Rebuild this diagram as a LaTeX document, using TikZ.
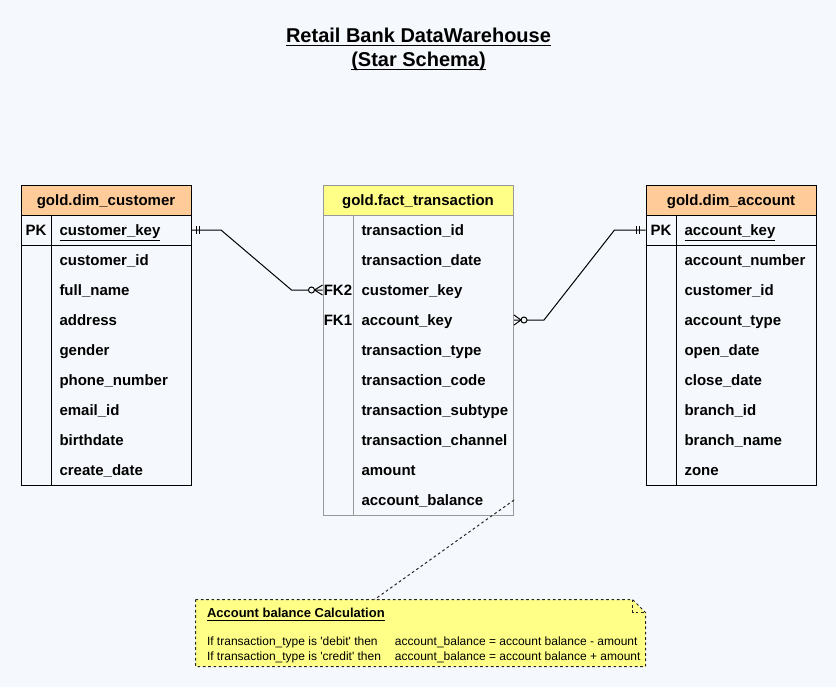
\documentclass[tikz,border=0pt]{standalone}
\usepackage{fontspec}
\setmainfont{Liberation Sans}[Ligatures=TeXOff]
\usetikzlibrary{calc}
\definecolor{pagebg}{HTML}{F5F8FC}
\definecolor{dimhead}{HTML}{FFCC99}
\definecolor{facthead}{HTML}{FFFF88}
\definecolor{factline}{HTML}{999999}
\definecolor{notefill}{HTML}{FFFF88}
% underline at a fixed depth: {depth}{thickness}{text}
\newcommand{\ulbox}[3]{\setbox0\hbox{#3}\rlap{\rule[-#1]{\wd0}{#2}}\box0}
\newcommand{\titleline}[1]{\ulbox{2.9pt}{1.1pt}{#1}}
\newcommand{\keyline}[1]{\ulbox{3.7pt}{0.75pt}{#1}}
\newcommand{\headline}[1]{\ulbox{2.4pt}{0.75pt}{#1}}
\tikzset{every picture/.style={line width=0.75pt}}
\tikzset{
  titletext/.style={align=center, inner sep=0pt, font=\fontsize{15}{18}\selectfont\bfseries},
  tblhead/.style={draw, minimum height=22.5pt, inner sep=0pt, text height=9pt, text depth=0.6pt, font=\fontsize{11.25}{13.5}\selectfont\bfseries},
  keycol/.style={minimum width=22.5pt, minimum height=22.5pt, inner sep=0pt, text height=9pt, text depth=0.6pt, font=\fontsize{11.25}{13.5}\selectfont\bfseries},
  dimfield/.style={anchor=west, minimum height=22.5pt, inner xsep=6pt, inner ysep=0pt, text width=93pt, align=left, text height=9pt, text depth=0.6pt, font=\fontsize{11.25}{13.5}\selectfont\bfseries},
  factfield/.style={dimfield, text width=108pt},
  notebox/.style={draw=black!85, fill=notefill, dash pattern=on 2pt off 2pt},
  notefold/.style={draw=black!85, dash pattern=on 2pt off 2pt},
  noteline/.style={draw=black!85, dash pattern=on 2pt off 2pt},
  notehead/.style={anchor=west, inner sep=0pt, font=\fontsize{9.75}{11.25}\selectfont\bfseries},
  notetext/.style={anchor=west, inner sep=0pt, font=\fontsize{9}{11.25}\selectfont}
}
\begin{document}
\begin{tikzpicture}[x=0.75pt,y=0.75pt,yscale=-1,xscale=1]
%Shape: Background
\fill[pagebg] (0,0) rectangle (836,687);

% Text Node
\node[titletext] (title) at (418.5,49) {\titleline{Retail Bank DataWarehouse}\\\titleline{(Star Schema)}};

%Shape: Table [gold.dim_customer]
\node[tblhead, fill=dimhead, minimum width=127.5pt] (cust) at (106,200) {gold.dim\_customer};
\draw (21,215) rectangle (191,485);
\draw (51,215) -- (51,485);
\draw (21,245) -- (191,245);
% Text Node
\node[keycol] (custpk) at (36,230) {PK};
\node[dimfield] (custkey) at (51,230) {\keyline{customer\_key}};
\node[dimfield] (custid) at (51,260) {customer\_id};
\node[dimfield] (custname) at (51,290) {full\_name};
\node[dimfield] (custaddr) at (51,320) {address};
\node[dimfield] (custgender) at (51,350) {gender};
\node[dimfield] (custphone) at (51,380) {phone\_number};
\node[dimfield] (custemail) at (51,410) {email\_id};
\node[dimfield] (custbirth) at (51,440) {birthdate};
\node[dimfield] (custcreate) at (51,470) {create\_date};

%Shape: Table [gold.fact_transaction]
\node[tblhead, draw=factline, fill=facthead, minimum width=142.5pt] (fact) at (418,200) {gold.fact\_transaction};
\draw[factline] (323,215) rectangle (513,515);
\draw[factline] (353,215) -- (353,515);
% Text Node
\node[keycol] (factfk2) at (338,290) {FK2};
\node[keycol] (factfk1) at (338,320) {FK1};
\node[factfield] (factid) at (353,230) {transaction\_id};
\node[factfield] (factdate) at (353,260) {transaction\_date};
\node[factfield] (factcustkey) at (353,290) {customer\_key};
\node[factfield] (factacckey) at (353,320) {account\_key};
\node[factfield] (facttype) at (353,350) {transaction\_type};
\node[factfield] (factcode) at (353,380) {transaction\_code};
\node[factfield] (factsub) at (353,410) {transaction\_subtype};
\node[factfield] (factchan) at (353,440) {transaction\_channel};
\node[factfield] (factamt) at (353,470) {amount};
\node[factfield] (factbal) at (353,500) {account\_balance};

%Shape: Table [gold.dim_account]
\node[tblhead, fill=dimhead, minimum width=127.5pt] (acct) at (731,200) {gold.dim\_account};
\draw (646,215) rectangle (816,485);
\draw (676,215) -- (676,485);
\draw (646,245) -- (816,245);
% Text Node
\node[keycol] (acctpk) at (661,230) {PK};
\node[dimfield] (acctkey) at (676,230) {\keyline{account\_key}};
\node[dimfield] (acctnum) at (676,260) {account\_number};
\node[dimfield] (acctcust) at (676,290) {customer\_id};
\node[dimfield] (accttype) at (676,320) {account\_type};
\node[dimfield] (acctopen) at (676,350) {open\_date};
\node[dimfield] (acctclose) at (676,380) {close\_date};
\node[dimfield] (acctbranch) at (676,410) {branch\_id};
\node[dimfield] (acctbname) at (676,440) {branch\_name};
\node[dimfield] (acctzone) at (676,470) {zone};

%Straight Lines [customer -> fact]
\draw (custkey.east) -- ++(29,0) -- ($(factfk2.west)+(-31,0)$) -- (factfk2.west);
\draw ($(custkey.east)+(4,-4)$) -- ++(0,8);
\draw ($(custkey.east)+(7,-4)$) -- ++(0,8);
\draw ($(factfk2.west)+(-8,0)$) -- ($(factfk2.west)+(0,-5)$);
\draw ($(factfk2.west)+(-8,0)$) -- ($(factfk2.west)+(0,5)$);
\draw[fill=pagebg] ($(factfk2.west)+(-11,0)$) circle (3);

%Straight Lines [account -> fact]
\draw (factacckey.east) -- ++(30,0) -- ($(acctpk.west)+(-31,0)$) -- (acctpk.west);
\draw ($(acctpk.west)+(-9,-4)$) -- ++(0,8);
\draw ($(acctpk.west)+(-6,-4)$) -- ++(0,8);
\draw ($(factacckey.east)+(7,0)$) -- ($(factacckey.east)+(0,-5)$);
\draw ($(factacckey.east)+(7,0)$) -- ($(factacckey.east)+(0,5)$);
\draw[fill=pagebg] ($(factacckey.east)+(10,0)$) circle (3);

%Shape: Note
\node[minimum width=336.75pt, minimum height=49.5pt, inner sep=0pt] (note) at (420.5,633) {};
\draw[noteline] (factbal.east) -- ($(note.north west)+(179,0)$);
\draw[notebox] (note.north west) -- ($(note.north east)+(-13,0)$) -- ($(note.north east)+(0,13)$) -- (note.south east) -- (note.south west) -- cycle;
\draw[notefold] ($(note.north east)+(-13,0)$) -- ($(note.north east)+(-13,13)$) -- ($(note.north east)+(0,13)$);
% Text Node
\node[notehead] (notehd) at ($(note.north west)+(11,15)$) {\headline{Account balance Calculation}};
\node[notetext] (noteln1) at ($(note.north west)+(11,43)$) {\makebox[141pt][l]{If transaction\_type is 'debit' then}account\_balance = account balance - amount};
\node[notetext] (noteln2) at ($(note.north west)+(11,58)$) {\makebox[141pt][l]{If transaction\_type is 'credit' then}account\_balance = account balance + amount};

\end{tikzpicture}
\end{document}
